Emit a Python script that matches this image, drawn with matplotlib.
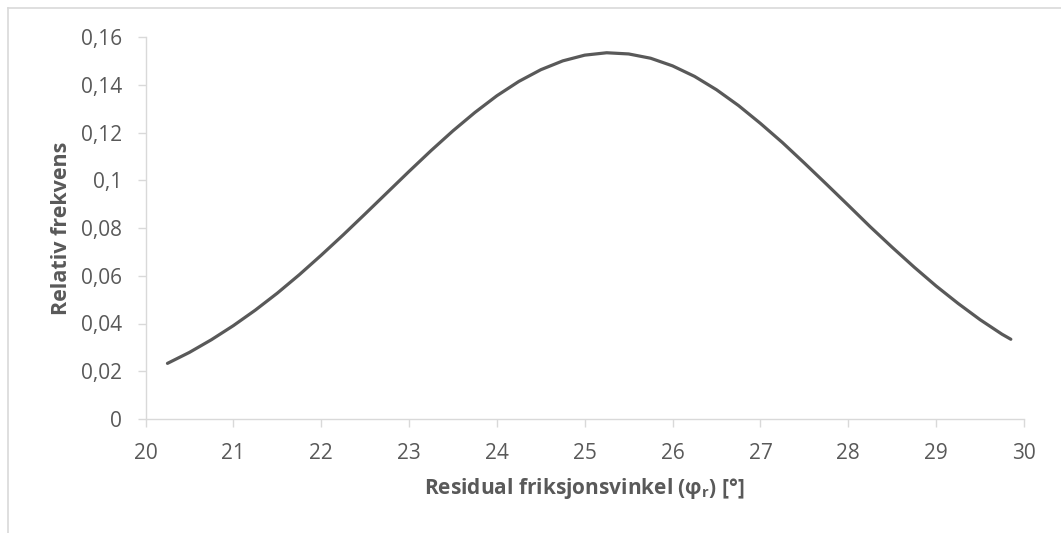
import numpy as np
import matplotlib.pyplot as plt
from matplotlib.lines import Line2D

plt.rcParams['font.family'] = ['Open Sans', 'DejaVu Sans']

# curve
phi = [20.25, 20.5, 20.75, 21.0, 21.25, 21.5, 21.75, 22.0, 22.25, 22.5,
       22.75, 23.0, 23.25, 23.5, 23.75, 24.0, 24.25, 24.5, 24.75, 25.0,
       25.25, 25.5, 25.75, 26.0, 26.25, 26.5, 26.75, 27.0, 27.25, 27.5,
       27.75, 28.0, 28.25, 28.5, 28.75, 29.0, 29.25, 29.5, 29.75, 29.85]
freq = [0.0233, 0.0279, 0.0332, 0.0391, 0.0456, 0.0527, 0.0604, 0.0686, 0.0771, 0.0859,
        0.0948, 0.1037, 0.1124, 0.1207, 0.1284, 0.1354, 0.1414, 0.1463, 0.1500, 0.1524,
        0.1534, 0.1529, 0.1511, 0.1479, 0.1435, 0.1379, 0.1313, 0.1238, 0.1158, 0.1072,
        0.0984, 0.0895, 0.0805, 0.0719, 0.0636, 0.0557, 0.0484, 0.0416, 0.0355, 0.0334]

xticks = np.arange(20, 31, 1)
yticks = [0, 0.02, 0.04, 0.06, 0.08, 0.1, 0.12, 0.14, 0.16]
yticklabels = ['0', '0,02', '0,04', '0,06', '0,08', '0,1', '0,12', '0,14', '0,16']

txt = '#595959'
grid = '#D9D9D9'

fig = plt.figure(figsize=(10.61, 5.33), dpi=100)
ax = fig.add_axes([145.5 / 1061, 1 - 419 / 533, (1024 - 145.5) / 1061, (419 - 37) / 533])

ax.plot(phi, freq, color='#595959', lw=2.3, solid_capstyle='round')

ax.set_xlim(20, 30)
ax.set_ylim(0, 0.16)
ax.set_xticks(xticks)
ax.set_yticks(yticks)
ax.set_yticklabels(yticklabels)

for s in ['top', 'right']:
    ax.spines[s].set_visible(False)
for s in ['left', 'bottom']:
    ax.spines[s].set_color(grid)
    ax.spines[s].set_linewidth(1.0)
ax.tick_params(direction='out', length=6, width=1, color=grid, labelcolor=txt,
               labelsize=15)
ax.tick_params(axis='x', pad=11)
ax.tick_params(axis='y', pad=11)

ax.set_xlabel('Residual friksjonsvinkel (φ$_\\mathregular{r}$) [°]', fontsize=15,
              fontweight='bold', color=txt, labelpad=9)
ax.set_ylabel('Relativ frekvens', fontsize=15.5, fontweight='bold', color=txt)
ax.yaxis.set_label_coords((72 - 145.5) / 878.5, 0.5)

# outer chart frame (only top and left edges visible)
fig.add_artist(Line2D([7.5 / 1061, 1], [1 - 7.5 / 533] * 2, transform=fig.transFigure,
                      color=grid, lw=1.2))
fig.add_artist(Line2D([7.5 / 1061] * 2, [0, 1 - 7.5 / 533], transform=fig.transFigure,
                      color=grid, lw=1.2))

fig.savefig('out.png', dpi=100)
